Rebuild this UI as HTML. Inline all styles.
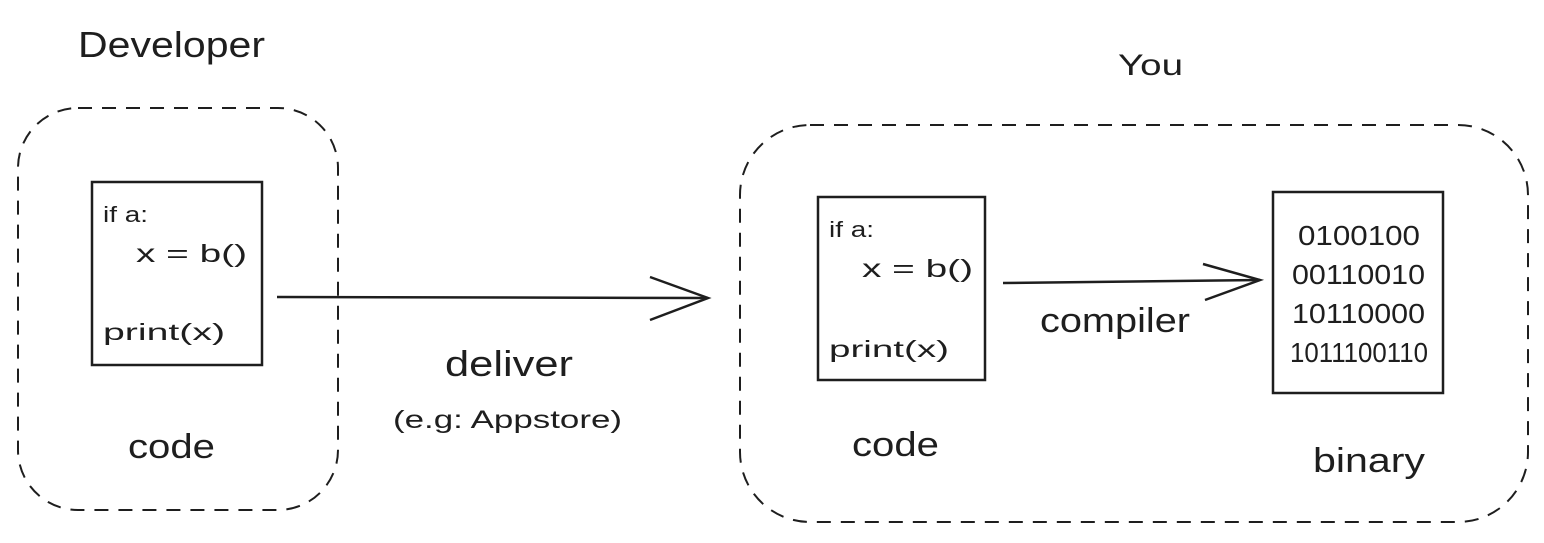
<!DOCTYPE html>
<html><head><meta charset="utf-8"><style>
html,body{margin:0;padding:0;background:#fff;width:1544px;height:543px;overflow:hidden}
text{font-family:"Liberation Sans",sans-serif;fill:#1e1e1e}
</style></head><body>
<svg width="1544" height="543" viewBox="0 0 1544 543" xmlns="http://www.w3.org/2000/svg">
<g fill="none" stroke="#1e1e1e" stroke-width="2">
<rect x="18" y="108" width="320" height="402" rx="60" stroke-dasharray="14 10"/>
<rect x="740" y="125" width="788" height="397" rx="70" stroke-dasharray="14 10"/>
<rect x="92" y="182" width="170" height="183" stroke-width="2.5"/>
<rect x="818" y="197" width="167" height="183" stroke-width="2.5"/>
<rect x="1273" y="192" width="170" height="201" stroke-width="2.5"/>
<path d="M277 297 L708 298" stroke-width="2.5"/>
<path d="M650 277 L708 298 L650 320" stroke-width="2.5"/>
<path d="M1003 283 L1260 280" stroke-width="2.5"/>
<path d="M1203 264 L1260 280 L1205 300" stroke-width="2.5"/>
</g>
<g lengthAdjust="spacingAndGlyphs">
<text x="78" y="57" font-size="36" textLength="187" lengthAdjust="spacingAndGlyphs">Developer</text>
<text x="1118" y="75" font-size="30" textLength="65" lengthAdjust="spacingAndGlyphs">You</text>
<text x="103" y="222" font-size="22" textLength="45" lengthAdjust="spacingAndGlyphs">if a:</text>
<text x="136" y="262" font-size="25" textLength="111" lengthAdjust="spacingAndGlyphs">x = b()</text>
<text x="103" y="340" font-size="23" textLength="122" lengthAdjust="spacingAndGlyphs">print(x)</text>
<text x="829" y="237" font-size="22" textLength="45" lengthAdjust="spacingAndGlyphs">if a:</text>
<text x="862" y="277" font-size="25" textLength="111" lengthAdjust="spacingAndGlyphs">x = b()</text>
<text x="829" y="357" font-size="23" textLength="120" lengthAdjust="spacingAndGlyphs">print(x)</text>
<text x="128" y="458" font-size="34" textLength="87" lengthAdjust="spacingAndGlyphs">code</text>
<text x="852" y="456" font-size="34" textLength="87" lengthAdjust="spacingAndGlyphs">code</text>
<text x="445" y="376" font-size="36" textLength="128" lengthAdjust="spacingAndGlyphs">deliver</text>
<text x="393" y="428" font-size="25" textLength="229" lengthAdjust="spacingAndGlyphs">(e.g: Appstore)</text>
<text x="1040" y="332" font-size="34" textLength="150" lengthAdjust="spacingAndGlyphs">compiler</text>
<text x="1313" y="472" font-size="34" textLength="112" lengthAdjust="spacingAndGlyphs">binary</text>
<text x="1298" y="245" font-size="28" textLength="122" lengthAdjust="spacingAndGlyphs">0100100</text>
<text x="1292" y="284" font-size="28" textLength="133" lengthAdjust="spacingAndGlyphs">00110010</text>
<text x="1292" y="323" font-size="28" textLength="133" lengthAdjust="spacingAndGlyphs">10110000</text>
<text x="1290" y="362" font-size="28" textLength="138" lengthAdjust="spacingAndGlyphs">1011100110</text>
</g>
</svg>
</body></html>
